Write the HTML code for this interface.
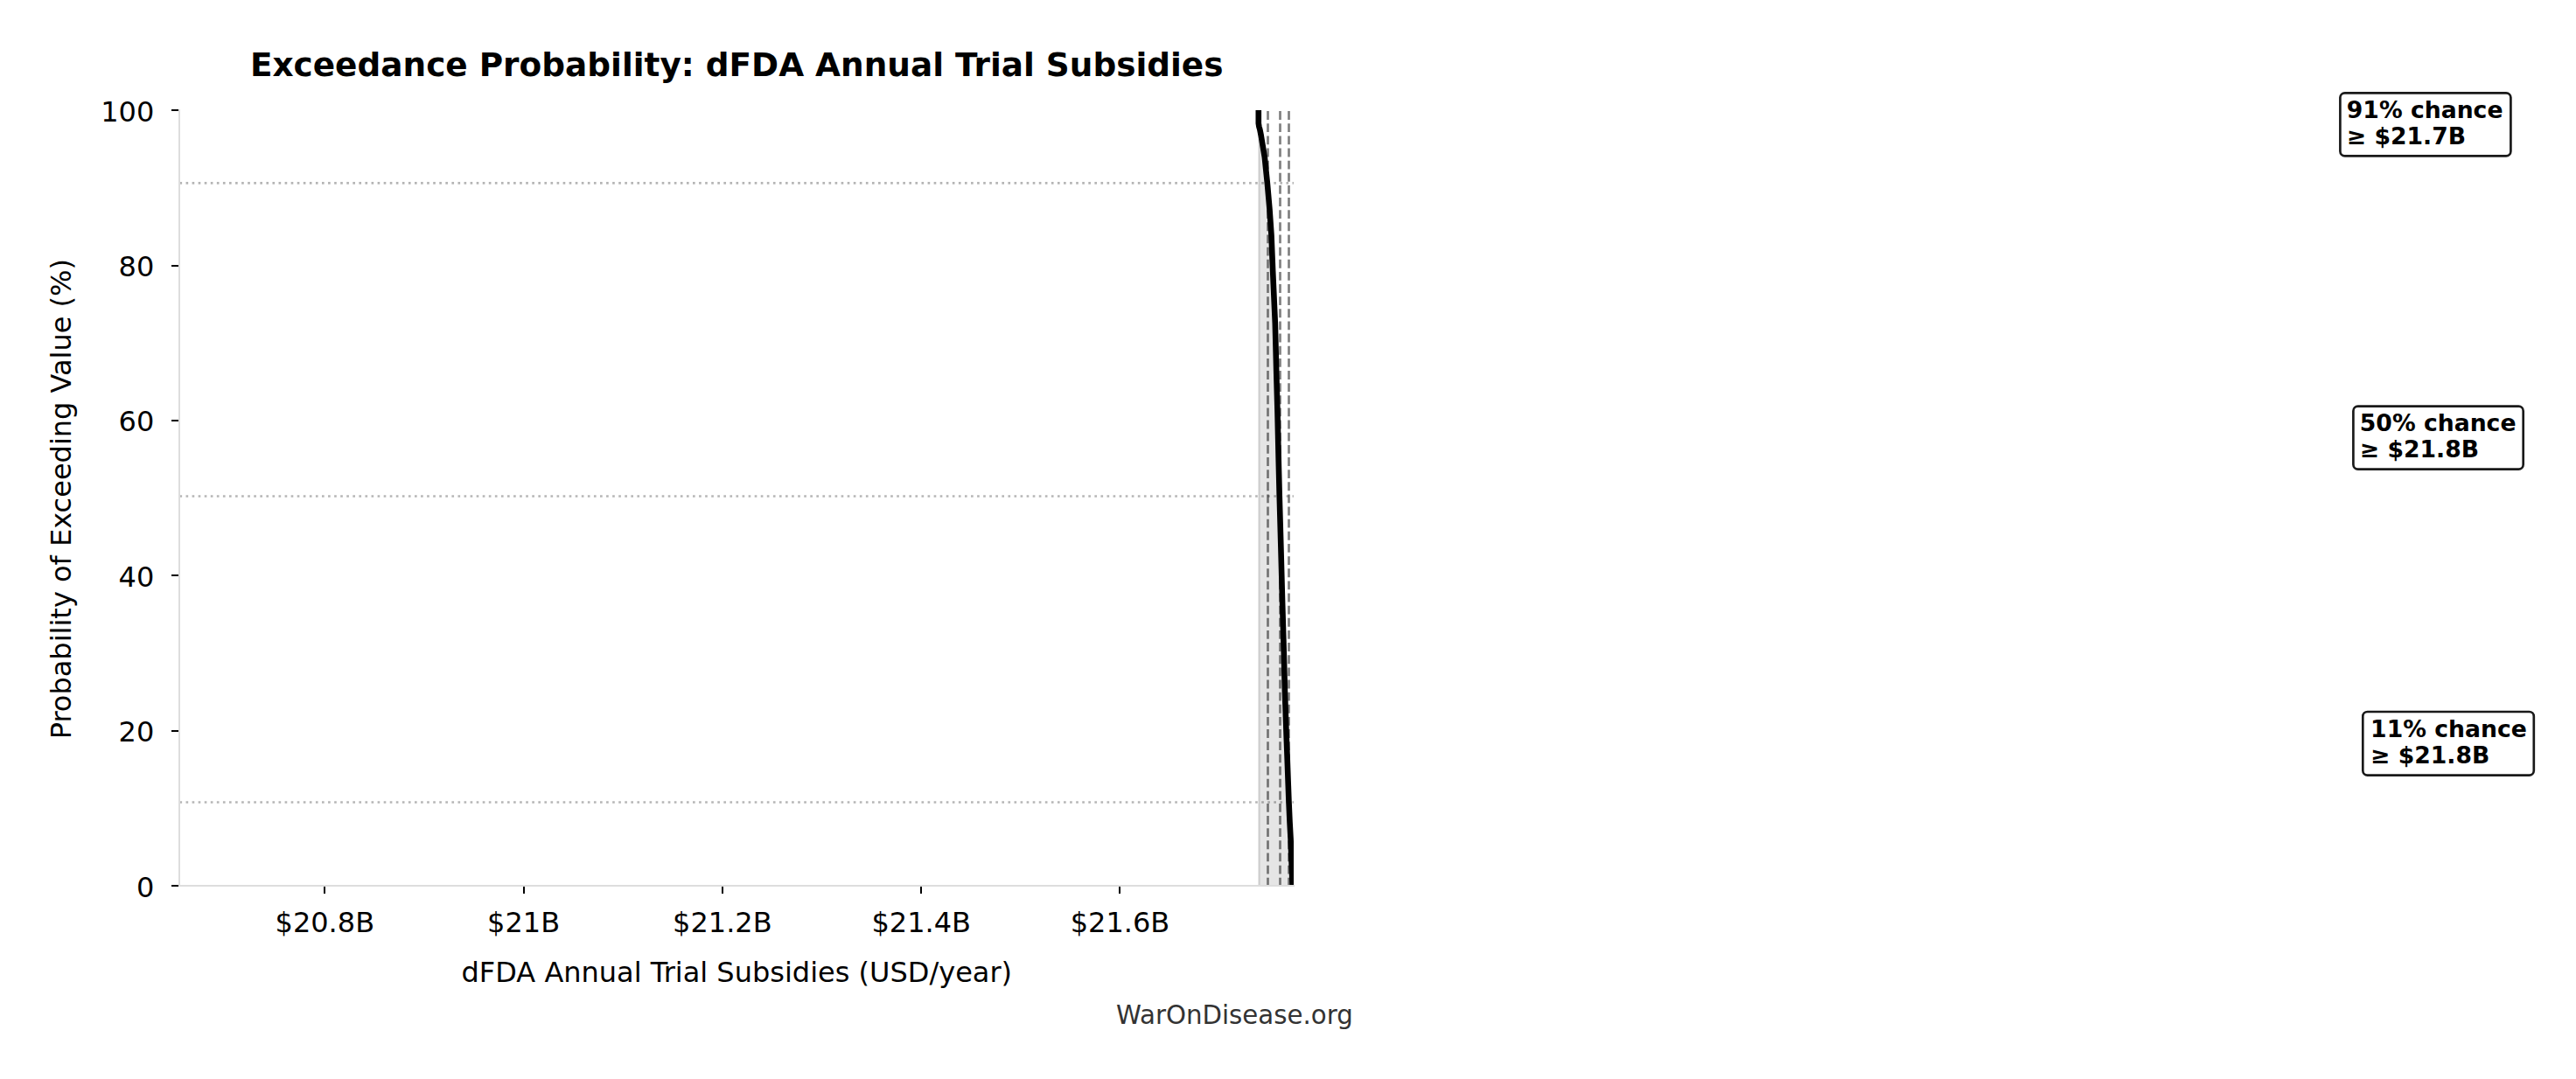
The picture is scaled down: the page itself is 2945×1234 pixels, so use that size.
<!DOCTYPE html>
<html><head><meta charset="utf-8"><title>Exceedance Probability: dFDA Annual Trial Subsidies</title>
<style>
html,body{margin:0;padding:0;background:#fff;}
svg{display:block}
text{font-family:"DejaVu Sans","Liberation Sans",sans-serif;fill:#000}
.t{font-size:32px}
.b{font-size:26.67px;font-weight:bold}
</style></head><body>
<svg width="2945" height="1234" viewBox="0 0 2945 1234">
<rect width="2945" height="1234" fill="#fff"/>
<defs><clipPath id="ax"><rect x="205.0" y="126.0" width="1274.0" height="887.0"/></clipPath></defs>
<g clip-path="url(#ax)">

<line x1="1449.5" x2="1449.5" y1="1013.65" y2="126.0" stroke="#000" stroke-opacity="0.5" stroke-width="2.67" stroke-dasharray="9.87 4.27"/>
<line x1="1463.5" x2="1463.5" y1="1013.65" y2="126.0" stroke="#000" stroke-opacity="0.5" stroke-width="2.67" stroke-dasharray="9.87 4.27"/>
<line x1="1473.5" x2="1473.5" y1="1013.65" y2="126.0" stroke="#000" stroke-opacity="0.5" stroke-width="2.67" stroke-dasharray="9.87 4.27"/>
<polygon points="1438.8,126 1438.8,1013.0 1477.6,1013.0 1477.6,1013 1475.6,960 1474.5,940 1473.5,917.45 1472.8,898.7 1471.4,860 1470.6,839.3 1468.9,790 1467.85,748.7 1466.1,689.3 1464.5,630 1462.75,567.5 1461.8,529.3 1460.45,470 1459.3,428.7 1457.8,369.3 1455.15,310 1453.5,268.7 1451.45,239 1448.85,209.3 1445.8,179.7 1441.7,155 1440.4,148.3 1439.35,144.6 1438.8,141 1438.8,126" fill="#000" fill-opacity="0.1"/>
<rect x="1438.3" y="126.0" width="2.45" height="887.0" fill="#000" fill-opacity="0.1"/>
<line x1="205.45" x2="1479.0" y1="209.38" y2="209.38" stroke="#000" stroke-opacity="0.29" stroke-width="2.67" stroke-dasharray="2.667 4.4"/>
<line x1="205.45" x2="1479.0" y1="567.46" y2="567.46" stroke="#000" stroke-opacity="0.29" stroke-width="2.67" stroke-dasharray="2.667 4.4"/>
<line x1="205.45" x2="1479.0" y1="917.47" y2="917.47" stroke="#000" stroke-opacity="0.29" stroke-width="2.67" stroke-dasharray="2.667 4.4"/>
<polyline points="1438.8,126 1438.8,141 1439.35,144.6 1440.4,148.3 1441.7,155 1445.8,179.7 1448.85,209.3 1451.45,239 1453.5,268.7 1455.15,310 1457.8,369.3 1459.3,428.7 1460.45,470 1461.8,529.3 1462.75,567.5 1464.5,630 1466.1,689.3 1467.85,748.7 1468.9,790 1470.6,839.3 1471.4,860 1472.8,898.7 1473.5,917.45 1474.5,940 1475.6,960 1477.6,1013" fill="none" stroke="#000" stroke-width="6.6" stroke-linejoin="round"/>
</g>
<rect x="204" y="125" width="2" height="889" fill="#dddddd"/>
<rect x="204" y="1012" width="1276" height="2" fill="#dddddd"/>
<rect x="196" y="1012" width="8" height="2" fill="#000"/>
<text class="t" x="176.3" y="1025.60" text-anchor="end">0</text>
<rect x="196" y="835" width="8" height="2" fill="#000"/>
<text class="t" x="176.3" y="848.20" text-anchor="end">20</text>
<rect x="196" y="657" width="8" height="2" fill="#000"/>
<text class="t" x="176.3" y="670.80" text-anchor="end">40</text>
<rect x="196" y="480" width="8" height="2" fill="#000"/>
<text class="t" x="176.3" y="493.40" text-anchor="end">60</text>
<rect x="196" y="303" width="8" height="2" fill="#000"/>
<text class="t" x="176.3" y="316.00" text-anchor="end">80</text>
<rect x="196" y="125" width="8" height="2" fill="#000"/>
<text class="t" x="176.3" y="138.60" text-anchor="end">100</text>
<rect x="370" y="1014" width="2" height="8" fill="#000"/>
<text class="t" x="371.30" y="1065.75" text-anchor="middle">$20.8B</text>
<rect x="598" y="1014" width="2" height="8" fill="#000"/>
<text class="t" x="598.60" y="1065.75" text-anchor="middle">$21B</text>
<rect x="825" y="1014" width="2" height="8" fill="#000"/>
<text class="t" x="825.90" y="1065.75" text-anchor="middle">$21.2B</text>
<rect x="1052" y="1014" width="2" height="8" fill="#000"/>
<text class="t" x="1053.20" y="1065.75" text-anchor="middle">$21.4B</text>
<rect x="1279" y="1014" width="2" height="8" fill="#000"/>
<text class="t" x="1280.50" y="1065.75" text-anchor="middle">$21.6B</text>
<text x="842.2" y="86.9" text-anchor="middle" style="font-size:37.42px;font-weight:bold">Exceedance Probability: dFDA Annual Trial Subsidies</text>
<text class="t" x="842.3" y="1123.25" text-anchor="middle">dFDA Annual Trial Subsidies (USD/year)</text>
<text class="t" transform="translate(81.2,570.7) rotate(-90)" text-anchor="middle">Probability of Exceeding Value (%)</text>
<text x="1546.8" y="1171.4" text-anchor="end" style="font-size:29.25px;fill:#333">WarOnDisease.org</text>
<rect x="2675.4" y="106.3" width="195.0" height="72.0" rx="5.3" ry="5.3" fill="#fff" stroke="#1a1a1a" stroke-width="2.67"/>
<text class="b" x="2682.80" y="134.80">91% chance</text>
<text class="b" x="2682.80" y="165.00">≥ $21.7B</text>
<rect x="2690.4" y="464.6" width="194.3" height="72.0" rx="5.3" ry="5.3" fill="#fff" stroke="#1a1a1a" stroke-width="2.67"/>
<text class="b" x="2697.80" y="493.10">50% chance</text>
<text class="b" x="2697.80" y="522.90">≥ $21.8B</text>
<rect x="2701.3" y="814.0" width="195.5" height="72.6" rx="5.3" ry="5.3" fill="#fff" stroke="#1a1a1a" stroke-width="2.67"/>
<text class="b" x="2710.10" y="842.70">11% chance</text>
<text class="b" x="2710.10" y="872.90">≥ $21.8B</text>
</svg></body></html>
